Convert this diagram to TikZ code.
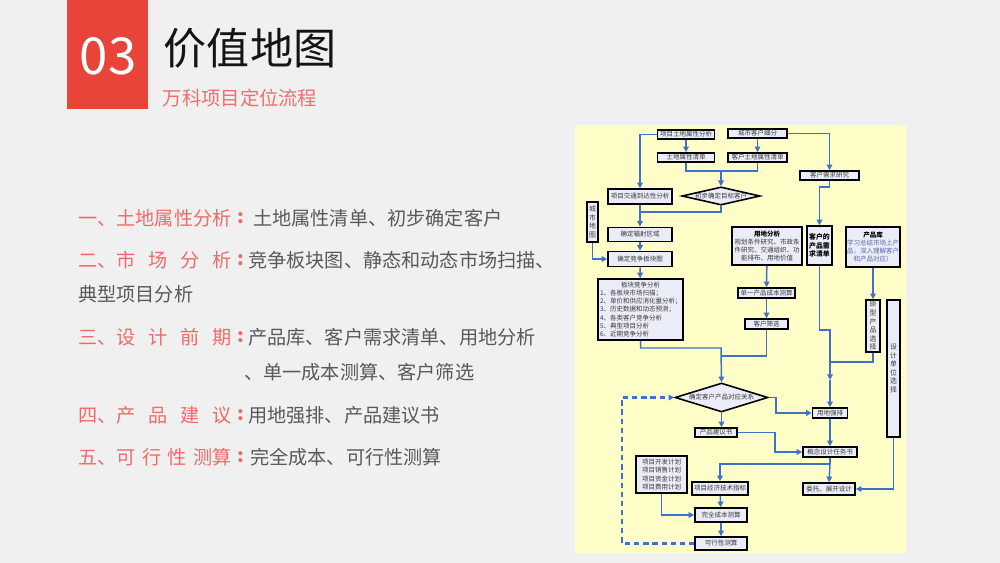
\documentclass[tikz,border=0pt]{standalone}
\usepackage{fontspec}
\setmainfont{Noto Sans CJK SC}
\usetikzlibrary{arrows.meta,shapes.geometric}

\definecolor{slidebg}{HTML}{F0F0F0}
\definecolor{accent}{HTML}{E8443A}
\definecolor{subred}{HTML}{EE6E6E}
\definecolor{labelred}{HTML}{F06A6A}
\definecolor{bodygray}{HTML}{595959}
\definecolor{panelyellow}{HTML}{FFFEC8}
\definecolor{boxfill}{HTML}{EAECF8}
\definecolor{linkblue}{HTML}{3D72C8}
\definecolor{flowtext}{HTML}{3A3A3A}
\definecolor{kutext}{HTML}{5A6AA8}

\newcommand{\flowfont}{\fontsize{3.7}{4.6}\selectfont}
\newcommand{\listfont}{\fontsize{10.9}{13}\selectfont}

\tikzset{
  sz/.style 2 args={minimum width=#1*0.02cm, minimum height=#2*0.02cm},
  flow/.style={draw=black, line width=0.9pt, fill=boxfill, text=flowtext,
    font=\flowfont, inner sep=0.3pt, align=center},
  upright/.style={flow, font=\fontsize{3.9}{4.9}\selectfont},
  choice/.style={flow, diamond, inner sep=0pt},
  wire/.style={draw=linkblue, line width=0.85pt},
  link/.style={wire, ->},
  dlink/.style={draw=linkblue, line width=1.4pt, dash pattern=on 3pt off 2.2pt, ->},
  listlabel/.style={anchor=west, inner sep=0pt, text=labelred, font=\listfont},
  listtext/.style={anchor=west, inner sep=0pt, text=bodygray, font=\listfont},
}

\begin{document}
\begin{tikzpicture}[x=0.02cm, y=-0.02cm, >={Triangle[length=3.2pt,width=3.2pt]}]
  \fill[slidebg] (0,0) rectangle (1000,563);
  \useasboundingbox (0,0) rectangle (1000,563);

  % heading
  \fill[accent] (67,0) rectangle (148,109);
  \node[text=white, font=\fontsize{29}{29}\selectfont] (num) at (108,56) {03};
  \node[text=black!92, font=\fontsize{24.5}{26}\selectfont] (title) at (250,48) {价值地图};
  \node[text=subred, font=\fontsize{11}{13}\selectfont] (sub) at (240,98) {万科项目定位流程};

  % list on the left
  \node[listlabel] (l1) at (78,218) {一、土地属性分析};
  \node[listlabel] (l2) at (78,260) {二、\makebox[6em][s]{市\hfill 场\hfill 分\hfill 析}};
  \node[listlabel] (l3) at (78,337) {三、\makebox[6em][s]{设\hfill 计\hfill 前\hfill 期}};
  \node[listlabel] (l4) at (78,415) {四、\makebox[6em][s]{产\hfill 品\hfill 建\hfill 议}};
  \node[listlabel] (l5) at (78,457) {五、\makebox[6em][s]{可\hfill 行\hfill 性\hfill 测算}};
  \foreach \r/\y in {1/218, 2/260, 3/337, 4/415, 5/457}
    \node[text=labelred, font=\listfont\bfseries, inner sep=0pt] (c\r) at (241,\y) {:};

  \node[listtext] (t1) at (253,218) {土地属性清单、初步确定客户};
  \node[listtext] (t2) at (248,260) {竞争板块图、静态和动态市场扫描、};
  \node[listtext] (t2b) at (78,294) {典型项目分析};
  \node[listtext] (t3) at (248,337) {产品库、客户需求清单、用地分析};
  \node[listtext] (t3b) at (244,372) {、单一成本测算、客户筛选};
  \node[listtext] (t4) at (248,415) {用地强排、产品建议书};
  \node[listtext] (t5) at (250,457) {完全成本、可行性测算};

  % flow chart panel
  \fill[panelyellow] (575,125) rectangle (906,553);

  \node[flow, sz={57}{9}] (tdfx) at (686,134.5) {项目土地属性分析};
  \node[flow, sz={57}{9}] (tdqd) at (686,157.5) {土地属性清单};
  \node[flow, sz={59}{9}] (cskh) at (757.5,133.5) {城市客户细分};
  \node[flow, sz={59}{9}] (khqd) at (757.5,157.5) {客户土地属性清单};
  \node[flow, sz={59}{9}] (xqyj) at (829.5,175.5) {客户需求研究};
  \node[flow, sz={64}{15}] (jtfx) at (640,196.5) {项目交通到达性分析};
  \node[choice, aspect=4.3, sz={78}{18}] (mbkh) at (721,196) {初步确定目标客户};
  \node[upright, sz={11}{40}] (csdt) at (592.5,222) {城\\市\\地\\图};
  \node[flow, sz={64}{14}] (fsqy) at (640,234.5) {确定辐射区域};
  \node[flow, sz={64}{15}] (jzbk) at (640,259) {确定竞争板块图};
  \node[flow, sz={85}{61}, text width=1.62cm, align=left] (bkfx) at (640.5,309.5)
    {\makebox[1.62cm]{板块竞争分析}\\1、各板块市场扫描；\\2、单价和供应消化量分析；\\3、历史数据和动态预测；\\4、各类客户竞争分析\\5、典型项目分析\\6、近期竞争分析};
  \node[flow, sz={70}{38}] (ydfx) at (767,246)
    {{\bfseries\color{black}用地分析}\\规划条件研究、市政条\\件研究、交通组织、功\\能排布、用地价值};
  \node[flow, sz={25}{39}, font=\fontsize{3.9}{5}\selectfont\bfseries, text=black] (xqqd) at (819.5,245.5) {客户的\\产品需\\求清单};
  \node[flow, sz={54}{40}, text=kutext] (cpk) at (873,247)
    {{\bfseries\color{black}产品库}\\学习总结市场上产\\品，深入理解客户\\和产品对应）};
  \node[flow, sz={57}{10}] (cbcs) at (766.5,293) {单一产品成本测算};
  \node[flow, sz={43}{10}] (khsx) at (766.5,324) {客户筛选};
  \node[upright, sz={14}{52}] (yxcp) at (873,326) {原\\型\\产\\品\\选\\择};
  \node[upright, sz={13}{137}] (sjdw) at (893.5,368.5) {设\\计\\单\\位\\选\\择};
  \node[choice, aspect=3.2, sz={93}{29}] (dyqr) at (721.5,397.5) {确定客户产品对应关系};
  \node[flow, sz={35}{10}] (ydqp) at (830,413) {用地强排};
  \node[flow, sz={42}{9}] (jys) at (716,432.5) {产品建议书};
  \node[flow, sz={54}{10}] (gnrw) at (830,452) {概念设计任务书};
  \node[flow, sz={51}{37}] (kfjh) at (661.5,474.5) {项目开发计划\\项目销售计划\\项目资金计划\\项目费用计划};
  \node[flow, sz={56}{13}] (jjzb) at (720,488.5) {项目经济技术指标};
  \node[flow, sz={52}{12}] (wtsj) at (829,489) {委托、展开设计};
  \node[flow, sz={52}{14}] (wqcb) at (721,515) {完全成本测算};
  \node[flow, sz={52}{13}] (kxcs) at (721,543.5) {可行性测算};

  \coordinate (j1) at (721,171);
  \coordinate (j2) at (640,212);
  \coordinate (k1) at (829.5,187);
  \coordinate (j3) at (721,348);
  \coordinate (j4) at (721,356);
  \coordinate (j5) at (830,330);
  \coordinate (j6) at (830,380);
  \coordinate (j7) at (830,362);
  \coordinate (j8) at (776,397.5);
  \coordinate (j9) at (775,432.5);
  \coordinate (j10) at (830,464);
  \coordinate (j11) at (622,397.5);

  \draw[link] (tdfx) -- (tdqd);
  \draw[link] (tdfx.west) -| (jtfx.north);
  \draw[link] (cskh) -- (khqd);
  \draw[link] (cskh.east) -| (xqyj.north);
  \draw[link] (xqyj.south) -- (k1) -| (xqqd.north);
  \draw[wire] (tdqd.south) |- (j1) -| (khqd.south);
  \draw[link] (j1) -- (mbkh.north);
  \draw[link] (jtfx) -- (fsqy);
  \draw[wire] (mbkh.south) |- (j2);
  \draw[link] (fsqy) -- (jzbk);
  \draw[link] (csdt.south) |- (jzbk.west);
  \draw[link] (jzbk) -- (bkfx);
  \draw[link] (ydfx) -- (cbcs);
  \draw[link] (cbcs) -- (khsx);
  \draw[link] (bkfx.south) |- (j3) -- (dyqr.north);
  \draw[wire] (khsx.south) |- (j4);
  \draw[link] (cpk) -- (yxcp);
  \draw[link] (xqqd.south) |- (j5) -- (j6);
  \draw[wire] (yxcp.south) |- (j7);
  \draw[link] (j6) -- (ydqp.north);
  \draw[link] (dyqr.east) -- (j8) |- (ydqp.west);
  \draw[link] (dyqr.south) -- (jys.north -| dyqr.south);
  \draw[link] (jys.east) -- (j9) |- (gnrw.west);
  \draw[link] (ydqp) -- (gnrw);
  \draw[wire] (gnrw.south) -- (j10);
  \draw[link] (j10) -- (wtsj.north);
  \draw[link] (j10) -| (jjzb.north);
  \draw[link] (sjdw.south) |- (wtsj.east);
  \draw[link] (kfjh.south) |- (wqcb.west);
  \draw[link] (jjzb) -- (wqcb);
  \draw[link] (wqcb) -- (kxcs);
  \draw[dlink] (kxcs.west) -| (j11) -- (dyqr.west);
\end{tikzpicture}
\end{document}
